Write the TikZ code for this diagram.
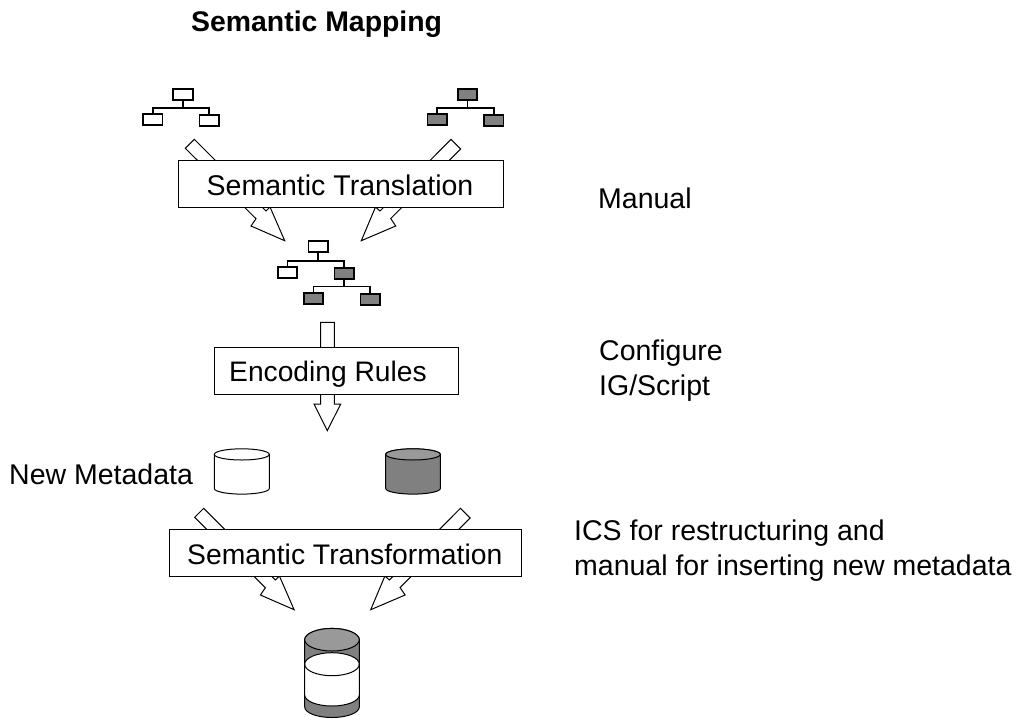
\documentclass[tikz,border=0pt]{standalone}
\usepackage{fontspec}
\setmainfont{Liberation Sans}
\definecolor{dk}{RGB}{128,128,128}
\definecolor{lt}{RGB}{153,153,153}
\tikzset{
  bl/.style={draw=black,line width=1pt,fill=white,line join=miter},
  procbox/.style={draw=black,line width=1pt,fill=white,inner sep=0pt},
  wbox/.style={draw=black,line width=1.7pt,fill=white,minimum width=19.5pt,minimum height=11pt,inner sep=0pt},
  gbox/.style={draw=black,line width=1.7pt,fill=dk,minimum width=19.5pt,minimum height=11pt,inner sep=0pt},
  tl/.style={draw=black,line width=1.7pt},
  lab/.style={anchor=base west,inner sep=0pt,font=\fontsize{28.5}{28.5}\selectfont},
  cyl/.style={draw=black,line width=1pt}
}
\newcommand{\arrowL}{(194.3,139.3) -- (266,211) -- (270,207) -- (284.7,240.7) -- (251,226) -- (256,218.7) -- (185.3,148.3) -- cycle}
\newcommand{\arrowR}{(451,139.3) -- (380,211) -- (375.5,207) -- (361.3,240.7) -- (395.7,226) -- (390.7,218.5) -- (460.7,149) -- cycle}
\begin{document}
\begin{tikzpicture}[x=1pt,y=-1pt]
\useasboundingbox (0,0) rectangle (1016,718);
% block arrows
\draw[bl] \arrowL;
\draw[bl] \arrowR;
\begin{scope}[shift={(9.4,369)}]
\draw[bl] \arrowL;
\draw[bl] \arrowR;
\end{scope}
\draw[bl] (320.7,322.3) -- (334.3,322.3) -- (334.3,404) -- (340.7,404) -- (327.3,430.7) -- (314,404) -- (320.7,404) -- cycle;
% process boxes
\node[procbox,minimum width=325pt,minimum height=46.8pt] (trans) at (340.8,184) {};
\node[procbox,minimum width=244pt,minimum height=47.3pt] (enc) at (336.3,371.3) {};
\node[procbox,minimum width=351.7pt,minimum height=47pt] (form) at (345.15,552.5) {};
\node[lab] (transT) at (206.5,195) {Semantic Translation};
\node[lab,font=\fontsize{28.2}{28.2}\selectfont] (encT) at (229,381.5) {Encoding Rules};
\node[lab,font=\fontsize{28.3}{28.3}\selectfont] (formT) at (187,564) {Semantic Transformation};
% titles and notes
\node[lab,font=\bfseries\fontsize{28.4}{28.4}\selectfont] (title) at (191,31) {Semantic Mapping};
\node[lab] (n1) at (598,208) {Manual};
\node[lab] (n2) at (599,360) {Configure};
\node[lab] (n3) at (599,395) {IG/Script};
\node[lab] (n4) at (9,484) {New Metadata};
\node[lab] (n5) at (574,540) {ICS for restructuring and};
\node[lab] (n6) at (574,575) {manual for inserting new metadata};
% tree 1
\node[wbox] (a0) at (183,94.4) {};
\node[wbox] (a1) at (152.7,119.7) {};
\node[wbox] (a2) at (209.3,120.2) {};
\draw[tl] (a0.south) -- ++(0,7.5) coordinate (ab);
\draw[tl] (a1.north) |- (ab) -| (a2.north);
% tree 2
\node[gbox] (b0) at (467.5,94.4) {};
\node[gbox] (b1) at (437.2,119.7) {};
\node[gbox] (b2) at (493.8,120.5) {};
\draw[tl] (b0.south) -- ++(0,7.5) coordinate (bb);
\draw[tl] (b1.north) |- (bb) -| (b2.north);
% tree 3
\node[wbox] (c0) at (318.2,246.8) {};
\node[wbox] (c1) at (287.5,272.8) {};
\node[gbox] (c2) at (344.2,273.2) {};
\node[gbox] (c3) at (313.4,298.5) {};
\node[gbox] (c4) at (370.2,299.5) {};
\draw[tl] (c0.south) -- ++(0,7.7) coordinate (cb);
\draw[tl] (c1.north) |- (cb) -| (c2.north);
\draw[tl] (c2.south) -- ++(0,7) coordinate (cd);
\draw[tl] (c3.north) |- (cd) -| (c4.north);
% cylinders
\draw[cyl,fill=white] (214.3,454.4) -- (214.3,488.5) arc[start angle=180,end angle=360,x radius=27.5pt,y radius=5.6pt] -- (269.3,454.4) arc[start angle=0,end angle=180,x radius=27.5pt,y radius=5.6pt] -- cycle;
\draw[cyl] (214.3,454.4) arc[start angle=180,end angle=360,x radius=27.5pt,y radius=5.6pt];
\draw[cyl,fill=dk] (385.7,454.4) -- (385.7,488.5) arc[start angle=180,end angle=360,x radius=27.3pt,y radius=5.6pt] -- (440.3,454.4) arc[start angle=0,end angle=180,x radius=27.3pt,y radius=5.6pt] -- cycle;
\draw[cyl,fill=lt] (413,454.4) ellipse[x radius=27.3pt,y radius=5.6pt];
\draw[cyl,fill=dk] (304.7,639.7) -- (304.7,707) arc[start angle=180,end angle=360,x radius=27.3pt,y radius=10.5pt] -- (359.3,639.7) arc[start angle=0,end angle=180,x radius=27.3pt,y radius=11.3pt] -- cycle;
\draw[cyl,fill=lt] (332,639.7) ellipse[x radius=27.3pt,y radius=11.3pt];
\draw[cyl,fill=white] (304.7,664.2) -- (304.7,695) arc[start angle=180,end angle=360,x radius=27.3pt,y radius=11pt] -- (359.3,664.2) arc[start angle=0,end angle=180,x radius=27.3pt,y radius=11.5pt] -- cycle;
\draw[cyl] (304.7,664.2) arc[start angle=180,end angle=360,x radius=27.3pt,y radius=11.5pt];
\end{tikzpicture}
\end{document}
